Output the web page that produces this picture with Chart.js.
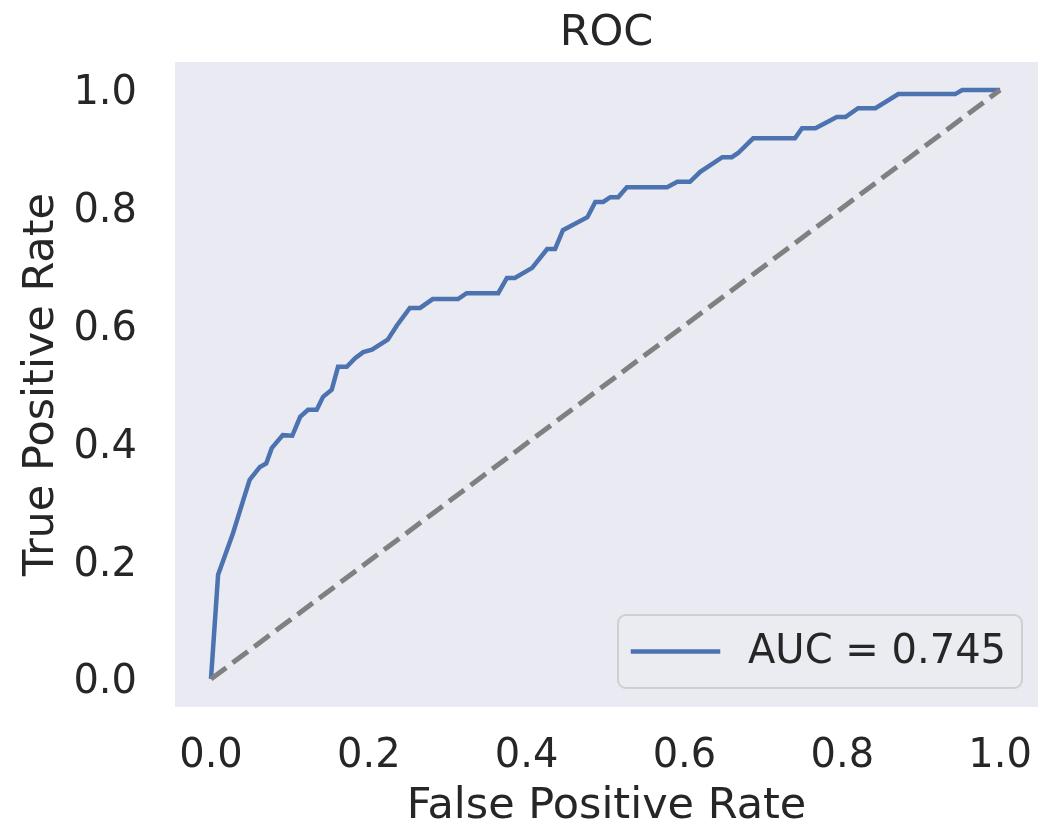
<!DOCTYPE html>
<html>
<head>
<meta charset="utf-8">
<script src="https://cdn.jsdelivr.net/npm/chart.js@4.4.1/dist/chart.umd.min.js"></script>
<style>
  html, body { margin: 0; padding: 0; background: #ffffff; overflow: hidden; }
  #wrap { width: 1038px; height: 828px; position: relative; }
</style>
</head>
<body>
<div id="wrap"><canvas id="chart"></canvas></div>
<script>
// ROC curve
const fpr = [0, 0.009, 0.028, 0.041, 0.049, 0.062, 0.070, 0.077, 0.091, 0.103,
  0.113, 0.123, 0.134, 0.142, 0.153, 0.161, 0.172, 0.183, 0.193, 0.204,
  0.224, 0.236, 0.252, 0.265, 0.281, 0.313, 0.324, 0.364, 0.375, 0.385,
  0.407, 0.426, 0.436, 0.446, 0.477, 0.487, 0.497, 0.506, 0.516, 0.527,
  0.578, 0.591, 0.607, 0.620, 0.648, 0.660, 0.668, 0.687, 0.740, 0.749,
  0.766, 0.793, 0.804, 0.820, 0.842, 0.871, 0.943, 0.952, 1.0];
const tpr = [0, 0.177, 0.248, 0.304, 0.338, 0.360, 0.366, 0.392, 0.414, 0.413,
  0.445, 0.457, 0.457, 0.479, 0.491, 0.530, 0.530, 0.545, 0.555, 0.559,
  0.576, 0.601, 0.630, 0.630, 0.645, 0.645, 0.655, 0.655, 0.681, 0.681,
  0.698, 0.730, 0.730, 0.762, 0.784, 0.810, 0.810, 0.818, 0.818, 0.835,
  0.835, 0.844, 0.844, 0.861, 0.886, 0.886, 0.893, 0.918, 0.918, 0.935,
  0.935, 0.954, 0.954, 0.969, 0.969, 0.993, 0.993, 1.0, 1.0];
const chanceX = [0, 1];
const chanceY = [0, 1];
const xTicks = [0, 0.2, 0.4, 0.6, 0.8, 1.0];
const yTicks = [0, 0.2, 0.4, 0.6, 0.8, 1.0];
const aucLabel = "AUC = 0.745";

const textColor = "#262626";
const font = "'DejaVu Sans', sans-serif";

const toPoints = (xs, ys) => xs.map((x, i) => ({ x, y: ys[i] }));

// axes face colour (seaborn "dark")
const facePlugin = {
  id: "face",
  beforeDraw(chart) {
    const { ctx, chartArea: a } = chart;
    ctx.save();
    ctx.fillStyle = "#EAEAF2";
    ctx.fillRect(a.left, a.top, a.right - a.left, a.bottom - a.top);
    ctx.restore();
  }
};

// legend box in the lower right corner of the axes
const legendBox = {
  id: "legendBox",
  afterDatasetsDraw(chart) {
    const { ctx, chartArea: a } = chart;
    const ds = chart.data.datasets[0];
    const w = 404, h = 73;
    const x = a.right - 16 - w;
    const y = a.bottom - 19 - h;
    ctx.save();
    ctx.beginPath();
    ctx.roundRect(x, y, w, h, 8);
    ctx.fillStyle = "#EBEBF2";
    ctx.fill();
    ctx.lineWidth = 2;
    ctx.strokeStyle = "rgba(204,204,204,0.9)";
    ctx.stroke();
    const cy = y + h / 2;
    ctx.beginPath();
    ctx.moveTo(x + 15, cy);
    ctx.lineTo(x + 100, cy);
    ctx.lineWidth = ds.borderWidth;
    ctx.strokeStyle = ds.borderColor;
    ctx.lineCap = "square";
    ctx.stroke();
    ctx.fillStyle = textColor;
    ctx.font = "40px " + font;
    ctx.textBaseline = "middle";
    ctx.textAlign = "left";
    ctx.fillText(ds.label, x + 130, cy + 1);
    ctx.restore();
  }
};

new Chart(document.getElementById("chart"), {
  type: "scatter",
  data: {
    datasets: [
      {
        label: aucLabel,
        data: toPoints(fpr, tpr),
        showLine: true,
        borderColor: "#4C72B0",
        borderWidth: 4.5,
        pointRadius: 0,
        tension: 0,
        order: 1
      },
      {
        label: "chance",
        data: toPoints(chanceX, chanceY),
        showLine: true,
        borderColor: "#808080",
        borderWidth: 5,
        borderDash: [19, 8],
        pointRadius: 0,
        order: 0
      }
    ]
  },
  options: {
    responsive: true,
    maintainAspectRatio: false,
    animation: false,
    layout: { padding: 0 },
    plugins: {
      legend: { display: false },
      tooltip: { enabled: false },
      title: {
        display: true,
        fullSize: false,
        text: "ROC",
        color: textColor,
        font: { family: font, size: 43, weight: "normal", lineHeight: 1 },
        padding: { top: 12, bottom: 7 }
      }
    },
    scales: {
      x: {
        type: "linear",
        min: -0.0456,
        max: 1.048,
        grid: { display: false, drawTicks: false },
        border: { display: false },
        afterBuildTicks: (s) => { s.ticks = xTicks.map(v => ({ value: v })); },
        afterFit: (s) => {
          s.height = 121;
          s.paddingLeft = 0;
          s.paddingRight = 0;
        },
        ticks: {
          color: textColor,
          padding: 26,
          maxRotation: 0,
          font: { family: font, size: 40 },
          callback: (v) => Number(v).toFixed(1)
        },
        title: {
          display: true,
          text: "False Positive Rate",
          color: textColor,
          font: { family: font, size: 43, lineHeight: 1 },
          padding: { top: 0, bottom: 0 }
        }
      },
      y: {
        type: "linear",
        min: -0.0475,
        max: 1.0475,
        grid: { display: false, drawTicks: false },
        border: { display: false },
        afterBuildTicks: (s) => { s.ticks = yTicks.map(v => ({ value: v })); },
        afterFit: (s) => {
          s.width = 175;
          s.paddingTop = 0;
          s.paddingBottom = 0;
        },
        ticks: {
          color: textColor,
          padding: 38,
          labelOffset: 4,
          font: { family: font, size: 40 },
          callback: (v) => Number(v).toFixed(1)
        },
        title: {
          display: true,
          text: "True Positive Rate",
          color: textColor,
          font: { family: font, size: 43, lineHeight: 1 },
          padding: { top: 20, bottom: 0 }
        }
      }
    }
  },
  plugins: [facePlugin, legendBox]
});
</script>
</body>
</html>
